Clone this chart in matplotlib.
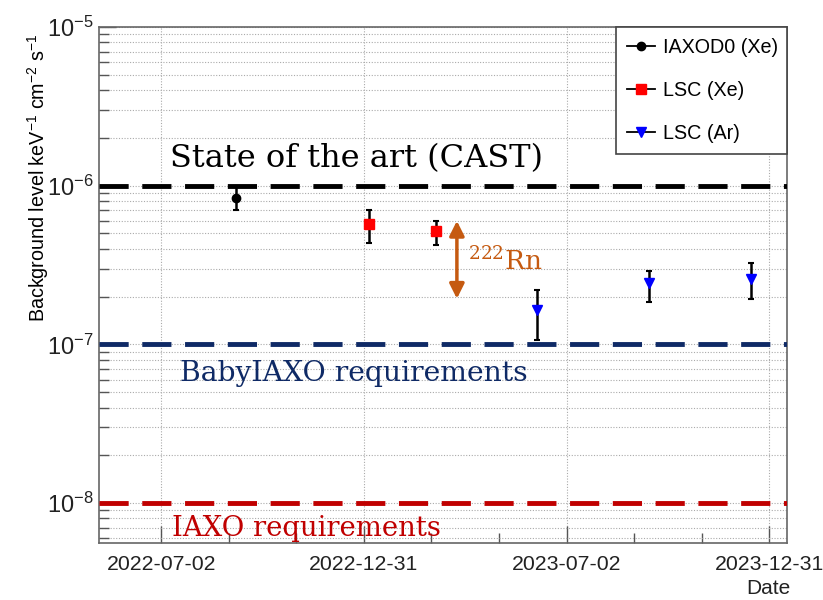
import numpy as np
import matplotlib
matplotlib.use("Agg")
import matplotlib.pyplot as plt
import matplotlib.dates as mdates
from matplotlib.lines import Line2D
from matplotlib.ticker import LogLocator, NullFormatter, FixedLocator

# ---------------- data ----------------
iaxo_dates = ["2022-09-07"]
iaxo_vals = [8.4e-7]
iaxo_lo = [7.06e-7]
iaxo_hi = [1.0e-6]

lscxe_dates = ["2023-01-05", "2023-03-06"]
lscxe_vals = [5.77e-7, 5.21e-7]
lscxe_lo = [4.38e-7, 4.25e-7]
lscxe_hi = [7.06e-7, 6.02e-7]

lscar_dates = ["2023-06-05", "2023-09-14", "2023-12-15"]
lscar_vals = [1.64e-7, 2.42e-7, 2.60e-7]
lscar_lo = [1.07e-7, 1.86e-7, 1.92e-7]
lscar_hi = [2.19e-7, 2.92e-7, 3.24e-7]

ref_levels = [1.0e-6, 1.0e-7, 1.0e-8]
ref_labels = ["State of the art (CAST)", "BabyIAXO requirements", "IAXO requirements"]
ref_colors = ["#000000", "#0f2a66", "#c00000"]

xtick_labels = ["2022-07-02", "2022-12-31", "2023-07-02", "2023-12-31"]
x_range = ["2022-05-07", "2024-01-16"]
y_range = [5.6e-9, 1e-5]

rn_arrow_date = "2023-03-25"
rn_arrow_range = [6.0e-7, 1.94e-7]

# ---------------- figure ----------------
fig = plt.figure(figsize=(8.23, 6.0), dpi=100)
ax = fig.add_axes([99/823, 57/600, 688/823, 516/600])

def d(lst):
    return mdates.date2num(np.array(lst, dtype="datetime64[D]"))

def plot_series(dates, vals, lo, hi, color, marker, ms):
    x = d(dates)
    v = np.array(vals)
    yerr = np.vstack([v - np.array(lo), np.array(hi) - v])
    ax.errorbar(x, v, yerr=yerr, fmt="none", ecolor="black", elinewidth=1.8,
                capsize=2.5, capthick=1.5, zorder=4)
    ax.plot(x, v, linestyle="none", marker=marker, color=color, ms=ms,
            markeredgecolor=color, zorder=5)

# reference lines
for lvl, c in zip(ref_levels, ref_colors):
    ax.axhline(lvl, color=c, lw=3.5, dashes=(6, 2.8), zorder=3)

plot_series(iaxo_dates, iaxo_vals, iaxo_lo, iaxo_hi, "black", "o", 6)
plot_series(lscxe_dates, lscxe_vals, lscxe_lo, lscxe_hi, "#ff0000", "s", 6.5)
plot_series(lscar_dates, lscar_vals, lscar_lo, lscar_hi, "#0000ff", "v", 7)

ax.set_yscale("log")
ax.set_xlim(d(x_range))
ax.set_ylim(y_range)

# ticks
major = d(xtick_labels)
ax.xaxis.set_major_locator(FixedLocator(major))
ax.set_xticklabels(xtick_labels)
minor = []
for a, b in zip(major[:-1], major[1:]):
    minor += [a + (b - a) / 3, a + 2 * (b - a) / 3]
ax.xaxis.set_minor_locator(FixedLocator(minor))
ax.yaxis.set_major_locator(LogLocator(base=10, numticks=20))
ax.yaxis.set_minor_locator(LogLocator(base=10, subs=np.arange(2, 10), numticks=20))
ax.yaxis.set_minor_formatter(NullFormatter())

ax.tick_params(axis="both", which="both", direction="in", colors="#555555",
               labelcolor="#222222")
ax.tick_params(axis="y", which="major", length=12, width=1, labelsize=17, pad=4)
ax.tick_params(axis="y", which="minor", length=7, width=1)
ax.tick_params(axis="x", which="major", length=12, width=1, labelsize=15.3, pad=9)
ax.tick_params(axis="x", which="minor", length=7, width=1)
for lab in ax.get_xticklabels() + ax.get_yticklabels():
    lab.set_fontfamily("Liberation Sans")

for s in ax.spines.values():
    s.set_color("#666666")
    s.set_linewidth(1.2)

ax.grid(True, which="major", axis="x", color="#aaaaaa", ls=(0, (1, 1.5)), lw=0.8)
ax.grid(True, which="both", axis="y", color="#aaaaaa", ls=(0, (1, 1.5)), lw=0.8)
ax.set_axisbelow(True)

ax.set_ylabel(r"Background level keV$^{\mathregular{-1}}$ cm$^{\mathregular{-2}}$ s$^{\mathregular{-1}}$",
              fontsize=14.2, family="Liberation Sans")
ax.yaxis.set_label_coords(-0.07, 0.707)
fig.text(790/823, 2/600, "Date", ha="right", va="bottom", fontsize=15,
         family="Liberation Sans", color="#222222")

# reference labels
serif = "DejaVu Serif"
ax.text(0.103, 0.746, ref_labels[0], transform=ax.transAxes, fontsize=23,
        family=serif, color=ref_colors[0], va="center", ha="left")
ax.text(0.118, 0.329, ref_labels[1], transform=ax.transAxes, fontsize=20.3,
        family=serif, color=ref_colors[1], va="center", ha="left")
ax.text(0.106, 0.029, ref_labels[2], transform=ax.transAxes, fontsize=19.8,
        family=serif, color=ref_colors[2], va="center", ha="left")

# Rn arrow
ax_x = d([rn_arrow_date])[0]
ax.annotate("", xy=(ax_x, rn_arrow_range[1]), xytext=(ax_x, rn_arrow_range[0]),
            arrowprops=dict(arrowstyle="<|-|>", color="#c55a11", lw=2.5,
                            mutation_scale=22, shrinkA=0, shrinkB=0), zorder=6)
ax.text(0.536, 0.548, r"$^{\mathregular{222}}$Rn", transform=ax.transAxes, fontsize=19,
        family=serif, color="#c55a11", va="center", ha="left")

# legend
handles = [
    Line2D([], [], color="black", lw=1.3, marker="o", ms=6, markerfacecolor="black", markeredgecolor="black"),
    Line2D([], [], color="black", lw=1.3, marker="s", ms=6.5, markerfacecolor="#ff0000", markeredgecolor="#ff0000"),
    Line2D([], [], color="black", lw=1.3, marker="v", ms=7, markerfacecolor="#0000ff", markeredgecolor="#0000ff"),
]
leg = ax.legend(handles, ["IAXOD0 (Xe)", "LSC (Xe)", "LSC (Ar)"],
                loc="upper right", bbox_to_anchor=(0.751, 0.744, 0.249, 0.256),
                mode="expand", borderaxespad=0, fancybox=False, framealpha=1,
                edgecolor="#444444", labelspacing=1.22,
                handlelength=1.45, handletextpad=0.4, borderpad=0.55,
                prop={"family": "Liberation Sans", "size": 14.2})
leg.get_frame().set_linewidth(1.2)
leg.set_zorder(10)

fig.savefig("out.png", dpi=100, facecolor="white")
